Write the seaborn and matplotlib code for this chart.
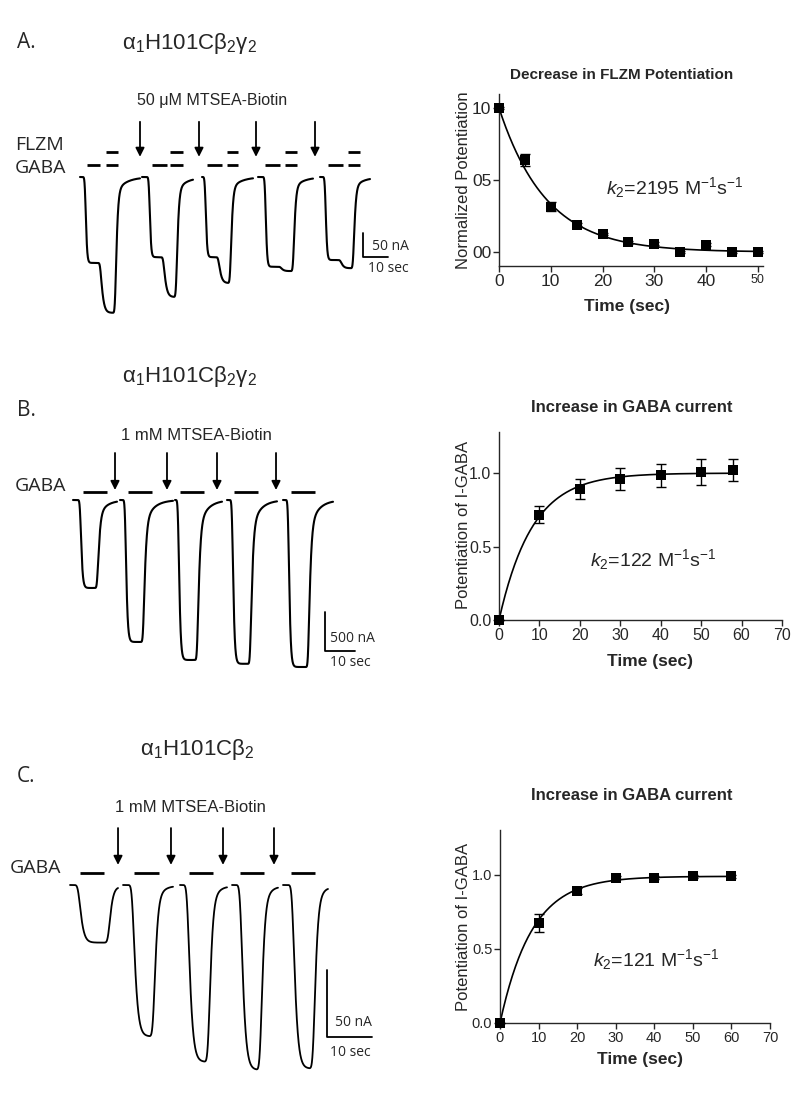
import numpy as np
import matplotlib
matplotlib.use("Agg")
import matplotlib.pyplot as plt
import seaborn as sns

# =========================
# DATA - kinetics (right column)
# =========================
time_a = [0, 5, 10, 15, 20, 25, 30, 35, 40, 45, 50]
pot_a = [1.0, 0.64, 0.315, 0.19, 0.125, 0.067, 0.058, 0.0, 0.05, 0.0, 0.0]
err_a = [0.01, 0.04, 0.03, 0.012, 0.01, 0.01, 0.01, 0.01, 0.01, 0.01, 0.01]
k2_a, conc_a = 2195, 50e-6     # M-1 s-1, M

time_b = [0, 10, 20, 30, 40, 50, 58]
pot_b = [0.0, 0.718, 0.893, 0.959, 0.984, 1.007, 1.02]
err_b = [0.0, 0.06, 0.07, 0.077, 0.08, 0.089, 0.076]
k2_b, conc_b = 122, 1e-3

time_c = [0, 10, 20, 30, 40, 50, 60]
pot_c = [0.0, 0.675, 0.888, 0.978, 0.978, 0.987, 0.987]
err_c = [0.0, 0.06, 0.02, 0.01, 0.01, 0.01, 0.01]
k2_c, conc_c = 121, 1e-3

# =========================
# DATA - current traces (left column), times in s, currents in nA
# =========================
a_start = [0, 24.8, 48.8, 71.2, 96]
a_on = [2, 27.6, 50, 74, 98]
a_step = [8, 33.2, 55.2, 80, 104]
a_off = [14, 38.4, 60, 85.2, 109.2]
a_end = [24, 45.2, 69.2, 93.2, 116]
a_gaba = [179, 167, 167, 187, 173]
a_flzm = [283, 250, 221, 196, 190]
a_gaba_bars = [(2.8, 8), (10.4, 15.2), (28.8, 34.8), (36, 41.2), (50.8, 56.8), (58.8, 63.2),
               (74, 80), (82, 86.8), (99.2, 105.2), (107.2, 112)]
a_flzm_bars = [(10.4, 15.2), (36, 41.2), (58.8, 63.2), (82, 86.8), (107.2, 112)]
a_arrows = [24, 47.6, 70.4, 94]

b_start = [0, 15.67, 34, 51.33, 70]
b_on = [2.33, 17.33, 35, 53, 71.67]
b_off = [8, 23.33, 41.33, 59, 78.33]
b_end = [14.67, 33.33, 49.67, 68, 86.67]
b_peak = [1128, 1820, 2051, 2100, 2141]
b_gaba_bars = [(3.33, 11.33), (18.33, 26.33), (35.67, 43.67), (53.67, 61.67), (72.67, 80.67)]
b_arrows = [14, 31.33, 48, 67.67]

c_start = [0, 11.78, 24.44, 36, 47.33]
c_on = [1.78, 13.78, 26, 37.78, 49.33]
c_off = [8.44, 18.44, 30.67, 42.22, 54]
c_end = [10.67, 22.89, 34.89, 46.22, 57.33]
c_peak = [43, 113, 132, 138, 137]
c_gaba_bars = [(2.22, 7.56), (14.22, 19.78), (26.44, 31.78), (37.78, 43.11), (49.11, 54.44)]
c_arrows = [10.67, 22.44, 34, 45.33]

W, H = 800, 1093

sns.set_style("ticks")
plt.rcParams['font.family'] = ['Liberation Sans', 'DejaVu Sans']
plt.rcParams['mathtext.fontset'] = 'custom'
plt.rcParams['mathtext.rm'] = 'Liberation Sans'
plt.rcParams['mathtext.it'] = 'Liberation Sans:italic'
plt.rcParams['mathtext.bf'] = 'Liberation Sans:bold'

fig = plt.figure(figsize=(W / 100, H / 100), dpi=100)


def fx(x):
    return x / W


def fy(y):
    return 1 - y / H


def response(t, on, off, amp, tau_on, tau_fast, tau_slow, w_fast):
    # tanh onset, fast tanh + slow exponential recovery
    r = np.zeros_like(t)
    during = (t >= on) & (t < off)
    r[during] = amp * np.tanh((t[during] - on) / tau_on)
    at_off = amp * np.tanh((off - on) / tau_on)
    after = t >= off
    dt = t[after] - off
    r[after] = at_off * (w_fast * (1 - np.tanh(dt / tau_fast)) + (1 - w_fast) * np.exp(-dt / tau_slow))
    return r


def smooth(t, y, sigma):
    step = t[1] - t[0]
    n = int(3 * sigma / step)
    k = np.exp(-0.5 * (np.arange(-n, n + 1) * step / sigma) ** 2)
    k /= k.sum()
    yp = np.concatenate([np.full(n, y[0]), y, np.full(n, y[-1])])
    return np.convolve(yp, k, mode="valid")


def trace_axes(left, top, right, bottom, x0, y0, px_s, px_na):
    ax = fig.add_axes([fx(left), fy(bottom), (right - left) / W, (bottom - top) / H])
    ax.set_xlim((left - x0) / px_s, (right - x0) / px_s)
    ax.set_ylim(-(bottom - y0) / px_na, (y0 - top) / px_na)
    ax.axis("off")
    return ax


def arrows(ax, xs, y_tail, y_tip):
    for x in xs:
        ax.annotate("", xy=(x, y_tip), xytext=(x, y_tail),
                    arrowprops=dict(arrowstyle="-|>", color="black", lw=1.3,
                                    mutation_scale=13, shrinkA=0, shrinkB=0))


def bars(ax, spans, y):
    for s, e in spans:
        ax.plot([s, e], [y, y], color="black", lw=2.0, solid_capstyle="butt")


def scale_bar(ax, x, y, dx, dy):
    ax.plot([x, x, x + dx], [y + dy, y, y], color="black", lw=1.3)


# =========================
# PANEL A traces
# =========================
axA = trace_axes(0, 90, 420, 330, 80, 177, 2.5, 0.48)
for i in range(5):
    t = np.linspace(a_start[i], a_end[i], 800)
    cur = response(t, a_on[i], a_off[i], a_gaba[i], 0.6, 1.0, 4.0, 0.88)
    cur += response(t, a_step[i], a_off[i], a_flzm[i] - a_gaba[i], 1.4, 1.0, 4.0, 0.88)
    sns.lineplot(x=t, y=-smooth(t, cur, 0.3), color="black", lw=1.5, ax=axA, sort=False)
bars(axA, a_gaba_bars, 25)
bars(axA, a_flzm_bars, 52)
arrows(axA, a_arrows, 115, 42)
scale_bar(axA, 113.2, -166.7, 10, 50)

fig.text(fx(17), fy(42), "A.", fontsize=15, family="Open Sans", va="center")
fig.text(fx(190), fy(44), r"α$_1$H101Cβ$_2$γ$_2$", fontsize=16, ha="center", va="center")
fig.text(fx(212), fy(100), "50 μM MTSEA-Biotin", fontsize=11.5, ha="center", va="center")
fig.text(fx(15), fy(145), "FLZM", fontsize=14, family="Open Sans", va="center")
fig.text(fx(15), fy(168), "GABA", fontsize=14, family="Open Sans", va="center")
fig.text(fx(372), fy(247), "50 nA", fontsize=10, family="Open Sans", va="center")
fig.text(fx(368), fy(268), "10 sec", fontsize=10, family="Open Sans", va="center")

# =========================
# PANEL B traces
# =========================
axB = trace_axes(0, 440, 420, 680, 73, 500, 3.0, 39 / 500)
for i in range(5):
    t = np.linspace(b_start[i], b_end[i], 800)
    cur = response(t, b_on[i], b_off[i], b_peak[i], 0.7, 1.0, 2.8, 0.8)
    sns.lineplot(x=t, y=-smooth(t, cur, 0.25), color="black", lw=1.5, ax=axB, sort=False)
bars(axB, b_gaba_bars, 102)
arrows(axB, b_arrows, 603, 128)
scale_bar(axB, 84, -1936, 10, 500)

fig.text(fx(17), fy(410), "B.", fontsize=15, family="Open Sans", va="center")
fig.text(fx(190), fy(377), r"α$_1$H101Cβ$_2$γ$_2$", fontsize=16, ha="center", va="center")
fig.text(fx(196), fy(436), "1 mM MTSEA-Biotin", fontsize=12, ha="center", va="center")
fig.text(fx(15), fy(486), "GABA", fontsize=14, family="Open Sans", va="center")
fig.text(fx(330), fy(639), "500 nA", fontsize=10, family="Open Sans", va="center")
fig.text(fx(330), fy(663), "10 sec", fontsize=10, family="Open Sans", va="center")

# =========================
# PANEL C traces
# =========================
axC = trace_axes(0, 815, 420, 1085, 70, 885, 4.5, 1.34)
for i in range(5):
    t = np.linspace(c_start[i], c_end[i], 800)
    cur = response(t, c_on[i], c_off[i], c_peak[i], 1.1, 0.9, 2.0, 0.9)
    sns.lineplot(x=t, y=-smooth(t, cur, 0.3), color="black", lw=1.3, ax=axC, sort=False)
bars(axC, c_gaba_bars, 9)
arrows(axC, c_arrows, 42.5, 15)
scale_bar(axC, 57.1, -113.4, 10, 50)

fig.text(fx(17), fy(777), "C.", fontsize=15, family="Open Sans", va="center")
fig.text(fx(197), fy(750), r"α$_1$H101Cβ$_2$", fontsize=16, ha="center", va="center")
fig.text(fx(190), fy(807), "1 mM MTSEA-Biotin", fontsize=12, ha="center", va="center")
fig.text(fx(10), fy(868), "GABA", fontsize=14, family="Open Sans", va="center")
fig.text(fx(335), fy(1022), "50 nA", fontsize=10, family="Open Sans", va="center")
fig.text(fx(330), fy(1053), "10 sec", fontsize=10, family="Open Sans", va="center")


# =========================
# KINETICS panels
# =========================
def kin_axes(left, top, right, bottom):
    return fig.add_axes([fx(left), fy(bottom), (right - left) / W, (bottom - top) / H])


def kin_plot(ax, x, y, e, t_fit, y_fit, msize):
    sns.lineplot(x=t_fit, y=y_fit, color="black", lw=1.2, ax=ax)
    ax.errorbar(x, y, yerr=e, fmt="none", ecolor="black", elinewidth=1.0,
                capsize=3.5, capthick=1.0, clip_on=False, zorder=3)
    sns.scatterplot(x=x, y=y, marker="s", s=msize, color="black", edgecolor="black",
                    linewidth=0, ax=ax, zorder=4, clip_on=False)
    sns.despine(ax=ax)
    ax.tick_params(direction="out", length=4, width=1.0, pad=1.5)
    for sp in ax.spines.values():
        sp.set_linewidth(1.0)


# A
ax1 = kin_axes(499, 94, 763, 266)
tf = np.linspace(0, 50, 300)
kin_plot(ax1, time_a, pot_a, err_a, tf, np.exp(-k2_a * conc_a * tf), 45)
ax1.set_xlim(0, 51)
ax1.set_ylim(-0.097, 1.097)
ax1.set_xticks([0, 10, 20, 30, 40, 50])
ax1.set_xticklabels(["0", "10", "20", "30", "40", "50"], fontsize=12.5)
ax1.get_xticklabels()[-1].set_fontsize(9)
ax1.set_yticks([0, 0.5, 1.0])
ax1.set_yticklabels(["00", "05", "10"], fontsize=12.5)
ax1.set_xlabel("Time (sec)", fontsize=12.5, fontweight="bold")
ax1.set_ylabel("Normalized Potentiation", fontsize=12)
ax1.xaxis.set_label_coords(0.485, -0.238)
ax1.xaxis.label.set_va("center")
ax1.yaxis.set_label_coords(-0.136, 0.5)
ax1.yaxis.label.set_va("center")
fig.text(fx(622), fy(75), "Decrease in FLZM Potentiation", fontsize=11, fontweight="bold",
         ha="center", va="center")
fig.text(fx(606), fy(188), r"$k_2$=2195 M$^{-1}$s$^{-1}$", fontsize=14, va="center")

# B
ax2 = kin_axes(499, 432, 782, 620)
tf = np.linspace(0, 58, 300)
kin_plot(ax2, time_b, pot_b, err_b, tf, 1 - np.exp(-k2_b * conc_b * tf), 60)
ax2.set_xlim(0, 70)
ax2.set_ylim(0, 1.28)
ax2.set_xticks(range(0, 71, 10))
ax2.set_yticks([0, 0.5, 1.0])
ax2.set_yticklabels(["0.0", "0.5", "1.0"])
ax2.tick_params(labelsize=11.5)
ax2.set_xlabel("Time (sec)", fontsize=12.5, fontweight="bold")
ax2.set_ylabel("Potentiation of I-GABA", fontsize=12)
ax2.xaxis.set_label_coords(0.534, -0.223)
ax2.xaxis.label.set_va("center")
ax2.yaxis.set_label_coords(-0.127, 0.505)
ax2.yaxis.label.set_va("center")
fig.text(fx(632), fy(408), "Increase in GABA current", fontsize=12, fontweight="bold",
         ha="center", va="center")
fig.text(fx(590), fy(560), r"$k_2$=122 M$^{-1}$s$^{-1}$", fontsize=14, va="center")

# C
ax3 = kin_axes(500, 830, 770, 1023)
tf = np.linspace(0, 60, 300)
kin_plot(ax3, time_c, pot_c, err_c, tf, 0.988 * (1 - np.exp(-k2_c * conc_c * tf)), 55)
ax3.set_xlim(0, 70)
ax3.set_ylim(0, 1.3)
ax3.set_xticks(range(0, 71, 10))
ax3.set_yticks([0, 0.5, 1.0])
ax3.set_yticklabels(["0.0", "0.5", "1.0"])
ax3.tick_params(labelsize=10.5)
ax3.set_xlabel("Time (sec)", fontsize=12.5, fontweight="bold")
ax3.set_ylabel("Potentiation of I-GABA", fontsize=12)
ax3.xaxis.set_label_coords(0.52, -0.19)
ax3.xaxis.label.set_va("center")
ax3.yaxis.set_label_coords(-0.137, 0.5)
ax3.yaxis.label.set_va("center")
fig.text(fx(632), fy(795), "Increase in GABA current", fontsize=12, fontweight="bold",
         ha="center", va="center")
fig.text(fx(593), fy(960), r"$k_2$=121 M$^{-1}$s$^{-1}$", fontsize=14, va="center")

fig.savefig("out.png", dpi=100)
